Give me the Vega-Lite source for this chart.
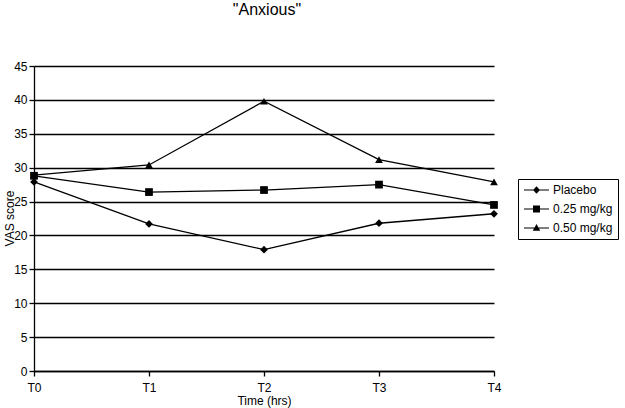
{
  "$schema": "https://vega.github.io/schema/vega-lite/v6.json",
  "width": 460,
  "height": 305,
  "autosize": {"type": "none"},
  "padding": {"left": 34, "top": 66, "right": 131, "bottom": 37},
  "background": "white",
  "title": {"text": "\"Anxious\"", "font": "Liberation Sans", "fontSize": 16, "fontWeight": "normal", "anchor": "middle", "frame": "group", "offset": 42, "dx": 3, "color": "black"},
  "config": {"view": {"stroke": null}, "font": "Liberation Sans"},
  "data": {"values": [
    {"time": "T0", "series": "Placebo", "vas": 27.9},
    {"time": "T1", "series": "Placebo", "vas": 21.7},
    {"time": "T2", "series": "Placebo", "vas": 17.9},
    {"time": "T3", "series": "Placebo", "vas": 21.8},
    {"time": "T4", "series": "Placebo", "vas": 23.2},
    {"time": "T0", "series": "0.25 mg/kg", "vas": 28.8},
    {"time": "T1", "series": "0.25 mg/kg", "vas": 26.4},
    {"time": "T2", "series": "0.25 mg/kg", "vas": 26.7},
    {"time": "T3", "series": "0.25 mg/kg", "vas": 27.5},
    {"time": "T4", "series": "0.25 mg/kg", "vas": 24.5},
    {"time": "T0", "series": "0.50 mg/kg", "vas": 28.9},
    {"time": "T1", "series": "0.50 mg/kg", "vas": 30.4},
    {"time": "T2", "series": "0.50 mg/kg", "vas": 39.8},
    {"time": "T3", "series": "0.50 mg/kg", "vas": 31.2},
    {"time": "T4", "series": "0.50 mg/kg", "vas": 27.9}
  ]},
  "encoding": {
    "x": {"field": "time", "type": "ordinal", "scale": {"type": "point", "padding": 0},
      "axis": {"title": "Time (hrs)", "labelAngle": 0, "domainColor": "black", "domainWidth": 1.3, "tickColor": "black", "tickSize": 5, "tickWidth": 1.3, "labelColor": "black", "labelFont": "Liberation Sans", "labelFontSize": 12, "labelPadding": 6, "grid": false,
        "titleFont": "Liberation Sans", "titleFontSize": 12, "titleFontWeight": "normal", "titleColor": "black", "titleY": 33, "titleBaseline": "alphabetic"}},
    "y": {"field": "vas", "type": "quantitative", "scale": {"domain": [0, 45], "nice": false},
      "axis": {"title": "VAS score", "values": [0, 5, 10, 15, 20, 25, 30, 35, 40, 45], "grid": true, "gridColor": "black", "gridWidth": 1.3, "gridOpacity": 1, "domainColor": "black", "domainWidth": 1.3, "tickColor": "black", "tickSize": 5, "tickWidth": 1.3, "labelColor": "black", "labelFont": "Liberation Sans", "labelFontSize": 12, "labelPadding": 2,
        "titleFont": "Liberation Sans", "titleFontSize": 12, "titleFontWeight": "normal", "titleColor": "black", "titleAngle": 270, "titleX": -21, "titleY": 152, "titleBaseline": "alphabetic", "titleAlign": "center"}}
  },
  "layer": [
    {"mark": {"type": "line", "color": "black", "strokeWidth": 1.3},
     "encoding": {"detail": {"field": "series"}}},
    {"mark": {"type": "point", "filled": true, "color": "black", "size": 60, "opacity": 1},
     "encoding": {"shape": {"field": "series", "type": "nominal",
       "scale": {"domain": ["Placebo", "0.25 mg/kg", "0.50 mg/kg"], "range": ["diamond", "square", "triangle-up"]},
       "legend": null}}},
    {"transform": [{"filter": "false"}],
     "mark": {"type": "point", "filled": true, "color": "black", "opacity": 1},
     "encoding": {"shape": {"field": "series", "type": "nominal",
       "scale": {"domain": ["Placebo", "0.25 mg/kg", "0.50 mg/kg"], "range": [
         "M-1,-0.1L0.9,-0.1L1.5,-0.75L2.1,-0.1L4,-0.1L4,0.1L2.1,0.1L1.5,0.75L0.9,0.1L-1,0.1Z",
         "M-1,-0.1L0.8,-0.1L0.8,-0.7L2.2,-0.7L2.2,-0.1L4,-0.1L4,0.1L2.2,0.1L2.2,0.7L0.8,0.7L0.8,0.1L-1,0.1Z",
         "M-1,-0.1L1.11,-0.1L1.5,-0.8L1.89,-0.1L4,-0.1L4,0.1L2,0.1L2.25,0.55L0.75,0.55L1,0.1L-1,0.1Z"]},
       "legend": {"title": null, "orient": "none", "legendX": 484, "legendY": 113, "strokeColor": "black", "padding": 5, "symbolSize": 100, "symbolStrokeWidth": 0, "labelFont": "Liberation Sans", "labelFontSize": 12, "labelColor": "black", "rowPadding": 7, "labelOffset": 18}}}}
  ],
  "resolve": {"scale": {"shape": "independent"}}
}
